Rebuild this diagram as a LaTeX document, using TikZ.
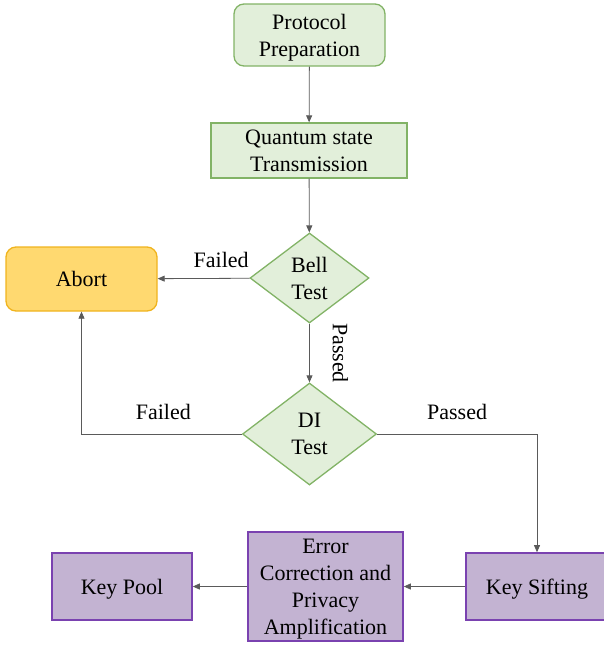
\documentclass[tikz,border=0pt]{standalone}
\usepackage{fontspec}
\setmainfont{Liberation Serif}
\usepackage{xcolor}
\usetikzlibrary{shapes.geometric,arrows.meta}

\definecolor{stepfill}{HTML}{E2EFDA}
\definecolor{stepline}{HTML}{82B366}
\definecolor{abortfill}{HTML}{FFD970}
\definecolor{abortline}{HTML}{F0B41E}
\definecolor{keyfill}{HTML}{C3B3D2}
\definecolor{keyline}{HTML}{7A42B0}
\definecolor{flowgray}{HTML}{5A5A5A}

\tikzset{
	every node/.style={font=\fontsize{22}{27}\selectfont, align=center},
	greenbox/.style={draw=stepline, fill=stepfill, line width=1.3pt, inner sep=0pt, text depth=0pt},
	greentest/.style={draw=stepline, fill=stepfill, line width=1.3pt, inner sep=0pt, shape=diamond, shape aspect=1.3},
	abortbox/.style={draw=abortline, fill=abortfill, line width=1.3pt, rounded corners=10pt, inner sep=0pt},
	keybox/.style={draw=keyline, fill=keyfill, line width=1.6pt, inner sep=0pt, text depth=0pt},
	flow/.style={draw=flowgray, line width=0.8pt, -{Triangle[width=6pt,length=7pt]}},
	flowtext/.style={inner sep=0pt}
}

\begin{document}
\begin{tikzpicture}[x=1pt, y=-1pt]
	\useasboundingbox (0,0) rectangle (603,645);
	
	\node[greenbox, rounded corners=10pt, minimum width=151pt, minimum height=62pt] (prep) at (309.5,35) {Protocol\\Preparation};
	\node[greenbox, minimum width=196pt, minimum height=55pt] (trans) at (309,150.5) {Quantum state\\Transmission};
	\node[greentest, minimum width=119pt, minimum height=90pt] (bell) at (309.5,278) {Bell\\Test};
	\node[abortbox, minimum width=151pt, minimum height=64pt] (abort) at (81.5,279) {Abort};
	\node[greentest, minimum width=134pt, minimum height=102pt] (di) at (309.5,434) {DI\\Test};
	
	\node[keybox, minimum width=142pt, minimum height=67pt] (sift) at (537,586.5) {Key Sifting};
	\node[keybox, minimum width=155pt, minimum height=109pt] (ecpa) at (325.5,586.5) {Error\\Correction and\\Privacy\\Amplification};
	\node[keybox, minimum width=140pt, minimum height=67pt] (pool) at (122,586.5) {Key Pool};
	
	\draw[flow] (prep) -- (trans);
	\draw[flow] (trans) -- (bell);
	\draw[flow] (bell) -- node[flowtext, pos=0.31, above=10pt] (bellfail) {Failed} (abort);
	\draw[flow] (bell) -- node[flowtext, midway, xshift=31pt, rotate=-90] (bellpass) {Passed} (di);
	\draw[flow] (di.west) -| node[flowtext, pos=0.245, above=14pt] (difail) {Failed} (abort.south);
	\draw[flow] (di.east) -| node[flowtext, pos=0.25, above=14pt] (dipass) {Passed} (sift.north);
	\draw[flow] (sift) -- (ecpa);
	\draw[flow] (ecpa) -- (pool);
\end{tikzpicture}
\end{document}
